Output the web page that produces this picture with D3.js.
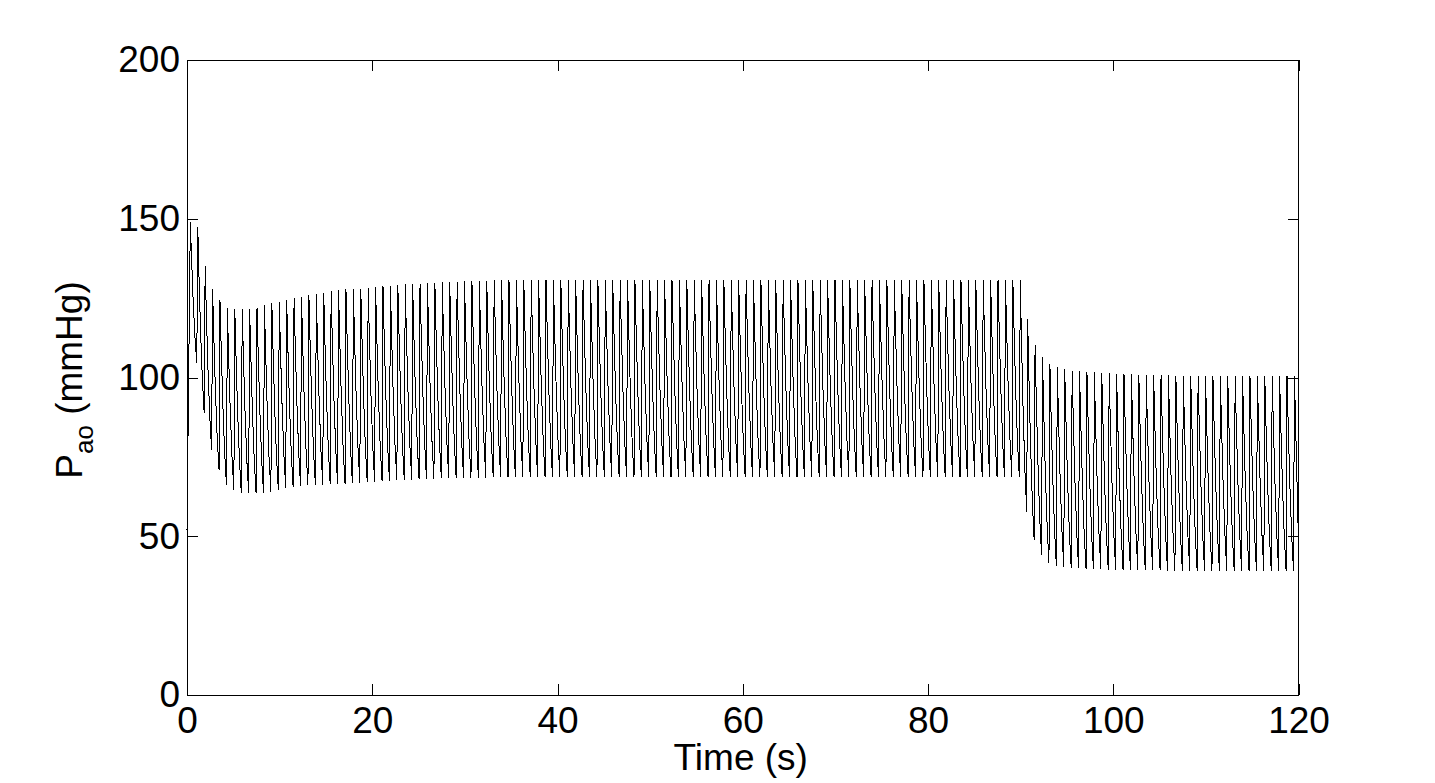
<!DOCTYPE html>
<html><head><meta charset="utf-8">
<script src="https://cdn.jsdelivr.net/npm/d3@7"></script>
<style>body{margin:0;background:#fff}svg{display:block}text{font-family:"Liberation Sans",Arial,sans-serif;fill:#000}</style>
</head><body>
<svg id="chart" width="1435" height="783"></svg>
<script>
// ---- data ----
const xTicks = [0, 20, 40, 60, 80, 100, 120];
const yTicks = [0, 50, 100, 150, 200];
const xLabel = "Time (s)";
const yLabelMain = "P", yLabelSub = "ao", yLabelUnit = " (mmHg)";
const startValue = 52;      // pressure at t = 0
const endValue = 48;        // pressure at t = 120
const firstPeakTime = 0.36; // s
const beatPeriod = 0.8;     // s
// systolic peak of each beat (mmHg)
const peaks = [
 149,147.5,135,128,124.4,122,121.6,121.5,121.6,122,122.8,123.5,123.9,124.4,124.9,125.5,126,126.4,126.7,127.1,127.4,127.8,127.9,128,128.3,
 128.5,128.7,128.9,129.1,129.3,129.5,129.6,129.8,129.9,130,130.1,130.2,130.3,
 130.4,130.5,130.5,130.6,130.6,130.7,130.7,130.7,130.7,130.7,130.7,130.7,130.7,130.7,130.7,130.7,130.7,130.7,130.7,130.7,
 130.7,130.7,130.7,130.7,130.7,130.7,130.7,130.7,130.7,130.7,130.7,130.7,130.7,130.7,130.7,130.7,130.7,130.7,130.7,130.7,
 130.7,130.7,130.7,130.7,130.7,130.7,130.7,130.7,130.7,130.7,130.7,130.7,130.7,130.7,130.7,130.7,130.7,130.7,130.7,130.7,
 130.7,130.7,130.7,130.7,130.7,130.7,130.7,130.7,130.7,130.7,130.7,130.7,130.7,130.7,130.7,
 118.3,110.2,106.4,104.3,103.2,102.7,102.2,102,101.8,101.6,101.4,101.3,101.2,101.1,101,100.9,100.8,100.8,100.7,100.7,100.6,100.6,100.6,100.5,
 100.5,100.5,100.5,100.5,100.5,100.5,100.5,100.5,100.5,100.5,100.5,100.5,100.5
];
// diastolic minimum that follows each peak (mmHg)
const troughs = [
 104.6,88.7,77.2,70.9,66.1,64.6,63.7,63.5,63.5,63.7,64,64.6,65.1,65.4,65.8,66,66.1,66.3,66.4,66.5,66.6,66.7,66.9,67,
 67.1,67.3,67.4,67.6,67.7,67.8,67.9,68,68.1,68.2,68.3,68.3,68.4,68.4,
 68.5,68.5,68.6,68.6,68.6,68.6,68.6,68.6,68.6,68.6,68.6,68.6,68.6,68.6,68.6,68.6,68.6,68.6,68.6,68.6,
 68.6,68.6,68.6,68.6,68.6,68.6,68.6,68.6,68.6,68.6,68.6,68.6,68.6,68.6,68.6,68.6,68.6,68.6,68.6,68.6,
 68.6,68.6,68.6,68.6,68.6,68.6,68.6,68.6,68.6,68.6,68.6,68.6,68.6,68.6,68.6,68.6,68.6,68.6,68.6,68.6,
 68.6,68.6,68.6,68.6,68.6,68.6,68.6,68.6,68.6,68.6,68.6,68.6,68.6,68.6,
 57.7,48.8,44.1,41.7,40.7,40.4,40.1,39.9,39.8,39.7,39.6,39.5,39.5,39.4,39.4,39.3,
 39.3,39.3,39.3,39.2,39.2,39.2,39.2,39.2,39.2,39.2,39.2,39.2,39.2,39.2,39.2,39.2,39.2,39.2,39.2,39.2,39.2
];
// shape of the diastolic decay within one beat: [seconds after peak, fraction of drop]
const decayShape = [[0.1,0.2],[0.3,0.55],[0.5,0.82],[0.7,1.0]];

// ---- build the pressure trace ----
const pts = [[0, startValue]];
peaks.forEach((p, k) => {
  const tp = firstPeakTime + beatPeriod * k;
  pts.push([tp, p]);
  if (k < troughs.length) {
    const tr = troughs[k];
    decayShape.forEach(([dt, f]) => pts.push([tp + dt, p - f * (p - tr)]));
  }
});
const trace = pts.filter(d => d[0] <= 120);
trace.push([120, endValue]);

// ---- draw ----
const svg = d3.select("#chart");
const L = 187, R = 1298.5, T = 60, B = 695;
const x = d3.scaleLinear().domain([0, 120]).range([L, R]);
const y = d3.scaleLinear().domain([0, 200]).range([B, T]);

svg.append("rect").attr("width", 1435).attr("height", 783).attr("fill", "#fff");

svg.append("path").datum(trace)
  .attr("fill", "none").attr("stroke", "#000").attr("stroke-width", 1)
  .attr("shape-rendering", "crispEdges")
  .attr("d", d3.line().x(d => x(d[0])).y(d => y(d[1])));

const fs = 37;
function styleAxis(g, showText) {
  g.select(".domain").remove();
  g.selectAll(".tick line").attr("stroke", "#000").attr("shape-rendering", "crispEdges");
  g.selectAll(".tick text").attr("font-size", fs).attr("font-family", '"Liberation Sans",Arial,sans-serif').attr("fill", "#000");
  if (!showText) g.selectAll(".tick text").remove();
}
svg.append("g").attr("transform", `translate(0,${B})`)
  .call(d3.axisBottom(x).tickValues(xTicks).tickSize(-11).tickPadding(12).tickFormat(d3.format("d")))
  .call(g => styleAxis(g, true));
svg.append("g").attr("transform", `translate(0,${T})`)
  .call(d3.axisTop(x).tickValues(xTicks).tickSize(-11))
  .call(g => styleAxis(g, false));
svg.append("g").attr("transform", `translate(${L},0)`)
  .call(d3.axisLeft(y).tickValues(yTicks).tickSize(-11).tickPadding(7).tickFormat(d3.format("d")))
  .call(g => styleAxis(g, true));
svg.append("g").attr("transform", `translate(${R},0)`)
  .call(d3.axisRight(y).tickValues(yTicks).tickSize(-11))
  .call(g => styleAxis(g, false));

svg.append("rect").attr("x", L).attr("y", T).attr("width", R - L).attr("height", B - T)
  .attr("fill", "none").attr("stroke", "#000").attr("stroke-width", 1).attr("shape-rendering", "crispEdges");

svg.append("text").attr("x", (L + R) / 2 - 2).attr("y", 770)
  .attr("text-anchor", "middle").attr("font-size", fs).text(xLabel);

const yl = svg.append("text").attr("transform", "translate(82,380) rotate(-90)")
  .attr("text-anchor", "middle").attr("font-size", fs);
yl.append("tspan").text(yLabelMain);
yl.append("tspan").attr("font-size", 26).attr("dy", 11).text(yLabelSub);
yl.append("tspan").attr("dy", -11).text(yLabelUnit);
</script>
</body></html>
